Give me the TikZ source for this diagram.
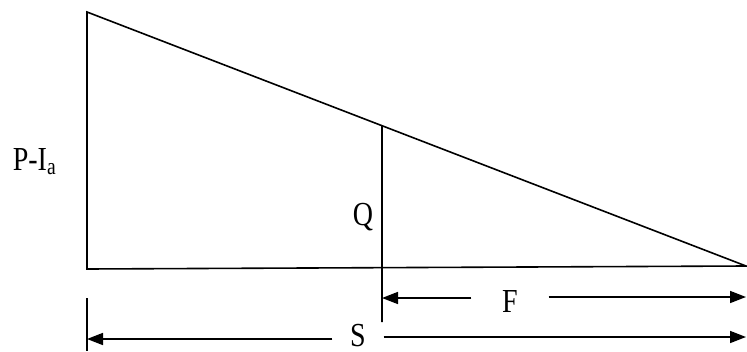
\documentclass[tikz,border=0pt]{standalone}
\usepackage{fontspec}
\setmainfont{Liberation Serif}
\usetikzlibrary{arrows.meta,calc}
\begin{document}
\begin{tikzpicture}[x=1pt,y=-1pt,line width=1.6pt,
  lbl/.style={inner sep=0pt,font=\fontsize{28}{30}\selectfont},
  dimarrow/.style={-{Triangle[length=16pt,width=12pt]}}]
\useasboundingbox (0,0) rectangle (747,351);
% triangle
\coordinate (A) at (87,12);
\coordinate (B) at (87,269);
\coordinate (C) at (746,266);
\draw[line join=miter] (A) -- (B) -- (C) -- cycle;
% ordinate Q
\coordinate (D) at ($(A)!0.44765!(C)$);
\coordinate (E) at ($(B)!0.44765!(C)$);
\draw (D) -- (E);
% extension ticks
\coordinate (Ft) at (382,322);
\coordinate (St) at (87,298);
\coordinate (Sb) at (87,351);
\draw (E) -- (Ft);
\draw (St) -- (Sb);
% labels
\node[lbl,anchor=base west] (P) at (12,170) {\scalebox{1}[1.2]{P-I\textsubscript{a}}};
\node[lbl,anchor=base west] (Q) at (352,225) {\scalebox{1}[1.2]{Q}};
\node[lbl,anchor=base,inner xsep=30pt] (F) at (510,312) {\scalebox{1}[1.2]{F}};
\node[lbl,anchor=base,inner xsep=17pt] (S) at (358,346) {\scalebox{1}[1.2]{S}};
% dimension arrows
\coordinate (FL) at (382,298);
\coordinate (FR) at (746,297);
\coordinate (SL) at (87,339);
\coordinate (SR) at (746,337);
\draw[dimarrow] (F.west |- FL) -- (FL);
\draw[dimarrow] (F.east |- FR) -- (FR);
\draw[dimarrow] (S.west |- SL) -- (SL);
\draw[dimarrow] (S.east |- SR) -- (SR);
\end{tikzpicture}
\end{document}
